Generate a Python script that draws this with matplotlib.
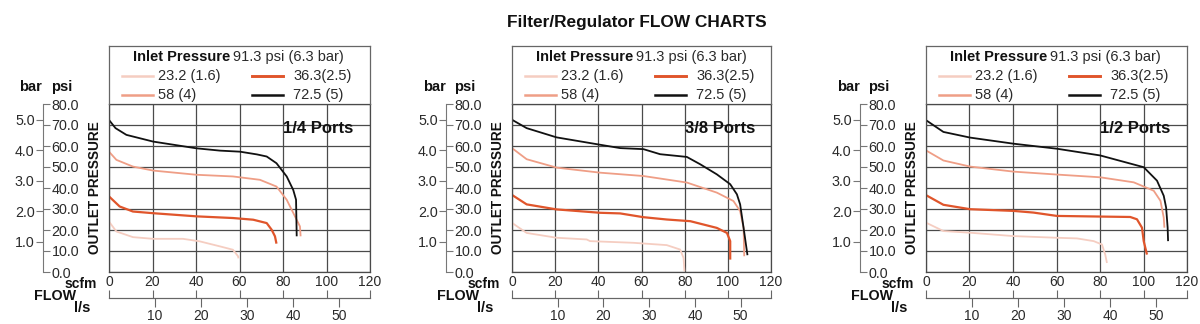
import matplotlib
matplotlib.use("Agg")
import matplotlib.pyplot as plt

plt.rcParams["font.family"] = ["Liberation Sans", "DejaVu Sans"]

# series labels (outlet setting, psi (bar)) and port sizes
series_labels = ["23.2 (1.6)", "58 (4)", "36.3(2.5)", "72.5 (5)"]
series_colors = ["#f5cdc1", "#ef9e86", "#e0552b", "#111111"]
port_names = ["1/4 Ports", "3/8 Ports", "1/2 Ports"]

# 1/4 ports: flow (scfm) and outlet pressure (psi)
q14_a = [0, 3.4, 11, 20.3, 34, 41.7, 51, 57, 59.4, 59.5]
p14_a = [24, 19.3, 16.6, 15.8, 15.8, 14.6, 12.2, 10.6, 7.4, 6.5]
q14_b = [0, 3.4, 11, 20.3, 40.2, 57, 69.4, 77, 81.7, 85.5, 87.8, 88.1]
p14_b = [57.3, 53.4, 50.2, 48.3, 46.3, 45.5, 43.9, 40.7, 34.4, 26.5, 21.7, 17]
q14_c = [0, 4.9, 11, 20.3, 40.2, 57, 66.3, 72.5, 74.8, 76.3, 77]
p14_c = [36, 31.2, 28.8, 28, 26.5, 25.7, 24.9, 23.3, 20.1, 17, 13.5]
q14_d = [0, 3, 8, 20.3, 40.2, 51, 60.2, 68, 72.5, 77, 81.7, 84.7, 86, 86.3]
p14_d = [72.4, 68.5, 65.3, 62.1, 58.9, 57.8, 57.3, 56, 55, 51.8, 45.5, 39.1, 34.4, 17]

# 3/8 ports
q38_a = [0, 6.8, 20.7, 34.6, 36.2, 56.3, 71.7, 77.9, 79.5, 79.9]
p38_a = [23.4, 18.6, 16.3, 15.5, 14.7, 13.9, 12.8, 10.7, 6.7, 0.3]
q38_b = [0, 6.8, 20.7, 40.8, 60.9, 81, 94.9, 102.6, 105.7, 107.3, 107.6]
p38_b = [59, 53.7, 49.7, 47.3, 45.7, 42.6, 37.8, 33.8, 29, 21, 7.5]
q38_c = [0, 6.8, 20.7, 40.8, 50.1, 60.9, 71.7, 82.6, 94.9, 99.6, 101.1, 101.1]
p38_c = [36.7, 32.2, 29.8, 28.2, 27.9, 26.1, 25, 24.2, 21, 18.6, 14.7, 5.9]
q38_d = [0, 6.8, 20.7, 40.8, 50.1, 60.9, 68.6, 81, 87.2, 94.9, 101.1, 104.2,
         105.7, 107.3, 109.1]
p38_d = [72.5, 68.5, 64.1, 60.6, 59, 58.5, 56.1, 54.8, 51.3, 46.5, 41.8, 37,
         32.2, 21, 8]

# 1/2 ports
q12_a = [0, 8, 20.3, 40.2, 60.2, 69.4, 77.1, 80.9, 82.4, 83.2]
p12_a = [23.5, 19.5, 18.7, 17.1, 16.3, 16, 14.7, 13.1, 8.3, 4.3]
q12_b = [0, 8, 20.3, 40.2, 60.2, 80.1, 95.5, 104.7, 107.8, 109.3, 109.6]
p12_b = [57.9, 53.1, 50.2, 47.8, 46.4, 45.1, 42.7, 38.7, 33.9, 25.9, 21.1]
q12_c = [0, 8, 20.3, 40.2, 49.4, 60.2, 80.1, 93.9, 97, 99.3, 100.1, 101.6]
p12_c = [36.6, 32, 29.9, 29.1, 28.3, 26.7, 26.4, 26.2, 25.1, 21.1, 14.7, 8.3]
q12_d = [0, 8, 20.3, 40.2, 60.2, 80.1, 100.1, 106.2, 109.3, 110.4, 111.1, 111.3]
p12_d = [72.3, 66.7, 64, 61.1, 58.7, 55.5, 49.9, 43.5, 36.3, 30.7, 21.1, 14.7]

port_flows = [[q14_a, q14_b, q14_c, q14_d],
              [q38_a, q38_b, q38_c, q38_d],
              [q12_a, q12_b, q12_c, q12_d]]
port_psi = [[p14_a, p14_b, p14_c, p14_d],
            [p38_a, p38_b, p38_c, p38_d],
            [p12_a, p12_b, p12_c, p12_d]]
series_widths = [1.3, 1.3, 1.6, 1.3]

psi_ticks = [0, 10, 20, 30, 40, 50, 60, 70, 80]
bar_ticks = [1, 2, 3, 4, 5]
scfm_ticks = [0, 20, 40, 60, 80, 100, 120]
ls_ticks = [10, 20, 30, 40, 50]
PSI_PER_BAR = 14.5038
SCFM_PER_LS = 2.119

W, H = 1200, 324
panel_left = [109, 512, 926]
panel_right = [370, 771, 1187]
TOP, BOT, BOX_TOP = 104, 272, 46
GRID = "#4a4a4a"
TXT = "#2a2a2a"
FS = 10.5

fig = plt.figure(figsize=(12, 3.24), dpi=100)
fig.text(637 / W, 1 - 22 / H, "Filter/Regulator FLOW CHARTS", ha="center",
         va="center", fontsize=12.4, fontweight="bold", color="#111111")


def px_text(x, y, s, **kw):
    fig.text(x / W, 1 - y / H, s, color="#111111", **kw)


for i in range(3):
    L, R = panel_left[i], panel_right[i]
    ax = fig.add_axes([L / W, 1 - BOT / H, (R - L) / W, (BOT - TOP) / H])
    for q, p, c, lw in zip(port_flows[i], port_psi[i], series_colors, series_widths):
        ax.plot(q, p, color=c, lw=lw, solid_capstyle="butt")
    ax.set_xlim(0, 120)
    ax.set_ylim(0, 80)
    ax.set_xticks(scfm_ticks)
    ax.set_yticks(psi_ticks)
    ax.grid(True, color=GRID, lw=0.9)
    ax.tick_params(axis="x", length=0, pad=2, labelsize=10, labelcolor=TXT)
    ax.tick_params(axis="y", length=0, labelleft=False)
    for sp in ax.spines.values():
        sp.set_color(GRID)
        sp.set_linewidth(0.9)
    ax.text(80, 68.5, port_names[i], fontsize=12, fontweight="bold",
            color="#111111", va="center")
    ax.text(-14 / (R - L), 0.5, "OUTLET PRESSURE", transform=ax.transAxes,
            rotation=90, ha="center", va="center", fontsize=9.8,
            fontweight="bold", color="#111111")

    # bottom flow scale: scfm ticks up, l/s ticks down
    loc = -26 / (BOT - TOP)
    sec_s = ax.secondary_xaxis(loc)
    sec_s.set_xticks(scfm_ticks)
    sec_s.tick_params(direction="in", length=6, color="#666666", labelbottom=False)
    sec_s.spines["bottom"].set_color("#666666")
    sec_l = ax.secondary_xaxis(loc, functions=(lambda q: q / SCFM_PER_LS,
                                               lambda l: l * SCFM_PER_LS))
    sec_l.set_xticks(ls_ticks)
    sec_l.tick_params(direction="out", length=6.5, color="#666666", pad=1.5,
                      labelsize=10, labelcolor=TXT)
    sec_l.spines["bottom"].set_color("#666666")

    # legend box above plot
    bx = fig.add_axes([L / W, 1 - TOP / H, (R - L) / W, (TOP - BOX_TOP) / H])
    bx.set_xlim(0, R - L)
    bx.set_ylim(TOP - BOX_TOP, 0)
    bx.set_xticks([])
    bx.set_yticks([])
    bx.patch.set_alpha(0)
    bx.spines["bottom"].set_visible(False)
    for s in ["left", "right", "top"]:
        bx.spines[s].set_color("#666666")
        bx.spines[s].set_linewidth(0.9)
    bx.text(121, 11, "Inlet Pressure", ha="right", va="center", fontsize=FS,
            fontweight="bold", color="#111111")
    bx.text(124, 11, "91.3 psi (6.3 bar)", ha="left", va="center",
            fontsize=FS, color=TXT)
    slots = [(13, 30, 49), (13, 49, 49), (143, 30, 184), (143, 49, 184)]
    for (sx, sy, tx), lab, c, lw in zip(slots, series_labels, series_colors, series_widths):
        bx.plot([sx, sx + 31], [sy, sy], color=c, lw=lw + 0.5)
        bx.text(tx, sy, lab, ha="left", va="center", fontsize=FS, color=TXT)

    # psi / bar scale on a shared spine left of the plot
    ap = fig.add_axes([(L - 66) / W, 1 - BOT / H, 0.0001, (BOT - TOP) / H])
    ap.set_ylim(0, 80)
    ap.set_xticks([])
    ap.patch.set_alpha(0)
    ab = ap.twinx()
    for s in ["top", "bottom", "right"]:
        ap.spines[s].set_visible(False)
    ap.spines["left"].set_color("#777777")
    ap.yaxis.tick_right()
    ap.set_yticks(psi_ticks)
    ap.set_yticklabels([f"{v:.1f}" for v in psi_ticks])
    ap.tick_params(axis="y", which="both", left=False, labelleft=False,
                   right=True, labelright=True, direction="out", length=5,
                   color="#777777", pad=1, labelsize=10.3, labelcolor=TXT)
    ab.set_ylim(0, 80 / PSI_PER_BAR)
    ab.set_yticks(bar_ticks)
    ab.set_yticklabels([f"{v:.1f}" for v in bar_ticks])
    ab.tick_params(axis="y", which="both", right=False, labelright=False,
                   left=True, labelleft=True, direction="out", length=5,
                   color="#777777", pad=1, labelsize=10.3, labelcolor=TXT)
    ab.set_xticks([])
    for s in ab.spines.values():
        s.set_visible(False)

    px_text(L - 78, 87, "bar", ha="center", va="center", fontsize=10.5, fontweight="bold")
    px_text(L - 47, 87, "psi", ha="center", va="center", fontsize=10.5, fontweight="bold")
    px_text(L - 12, 284, "scfm", ha="right", va="center", fontsize=10, fontweight="bold")
    px_text(L - 54, 296, "FLOW", ha="center", va="center", fontsize=10.3, fontweight="bold")
    px_text(L - 27, 308, "l/s", ha="center", va="center", fontsize=10.5, fontweight="bold")

fig.savefig("out.png", dpi=100)
